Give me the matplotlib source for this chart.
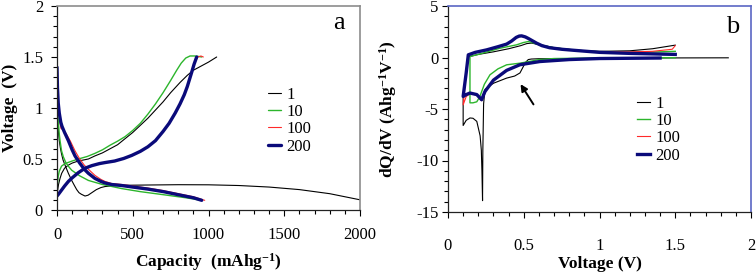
import matplotlib
matplotlib.use("Agg")
import matplotlib.pyplot as plt
from matplotlib.ticker import MultipleLocator

plt.rcParams['font.family'] = ['Liberation Serif', 'DejaVu Serif']
plt.rcParams['mathtext.fontset'] = 'custom'
plt.rcParams['mathtext.rm'] = 'Liberation Serif:bold'
plt.rcParams['mathtext.bf'] = 'Liberation Serif:bold'
plt.rcParams['mathtext.default'] = 'bf'

# ---------------- Panel a: voltage profiles ----------------
labels = ['1', '10', '100', '200']
colors = ['#000000', '#2cb52c', '#ff2a2a', '#0a0a7a']
widths = [0.8, 1.0, 0.8, 2.4]

c1_dis_cap = [0, 5, 10, 15, 22, 30, 40, 53, 75, 97, 115, 130, 145, 160, 185, 205, 230, 260, 290, 317, 370, 427,
              600, 800, 1000, 1200, 1400, 1600, 1800, 2000]
c1_dis_v = [0.95, 0.85, 0.76, 0.68, 0.61, 0.55, 0.49, 0.44, 0.36, 0.29, 0.24, 0.20, 0.17, 0.155, 0.137, 0.145, 0.17, 0.20, 0.22, 0.23, 0.237, 0.242,
            0.245, 0.248, 0.247, 0.24, 0.225, 0.20, 0.16, 0.10]
c1_chg_cap = [0, 5, 10, 20, 31, 50, 75, 100, 140, 207, 250, 300, 350, 400, 450, 500, 550, 600, 650, 700, 750, 812, 860, 900, 950, 1000, 1054]
c1_chg_v = [0.14, 0.20, 0.25, 0.31, 0.36, 0.41, 0.44, 0.46, 0.48, 0.50, 0.53, 0.56, 0.60, 0.64, 0.70, 0.76, 0.83, 0.90, 0.98, 1.06, 1.15, 1.25, 1.32, 1.37, 1.41, 1.45, 1.50]

c10_dis_cap = [0, 3, 8, 14, 20, 30, 42, 60, 80, 97, 150, 207, 300, 427, 550, 702, 850, 955]
c10_dis_v = [1.10, 1.00, 0.88, 0.76, 0.68, 0.58, 0.52, 0.46, 0.42, 0.39, 0.335, 0.29, 0.25, 0.21, 0.18, 0.15, 0.12, 0.095]
c10_chg_cap = [0, 3, 8, 15, 30, 53, 100, 141, 200, 250, 300, 350, 400, 450, 500, 550, 600, 650, 700, 750, 790, 820, 850, 878, 910, 935, 955]
c10_chg_v = [0.20, 0.26, 0.33, 0.38, 0.43, 0.455, 0.48, 0.50, 0.525, 0.555, 0.59, 0.635, 0.675, 0.72, 0.78, 0.85, 0.94, 1.04, 1.15, 1.27, 1.37, 1.44, 1.49, 1.51, 1.51, 1.505, 1.50]

c100_dis_cap = [0, 3, 8, 15, 22, 26, 40, 60, 90, 119, 150, 180, 207, 250, 290, 317, 360, 427, 500, 600, 702, 800, 900, 975]
c100_dis_v = [1.40, 1.20, 1.05, 0.93, 0.84, 0.80, 0.785, 0.75, 0.67, 0.58, 0.50, 0.44, 0.40, 0.34, 0.30, 0.28, 0.26, 0.25, 0.235, 0.215, 0.19, 0.16, 0.13, 0.095]
c100_chg_cap = [0, 10, 25, 50, 75, 100, 140, 185, 230, 280, 317, 380, 440, 493, 550, 600, 650, 700, 740, 780, 812, 840, 860, 889, 910, 930, 950, 966]
c100_chg_v = [0.137, 0.155, 0.185, 0.235, 0.28, 0.315, 0.365, 0.41, 0.435, 0.455, 0.465, 0.48, 0.505, 0.535, 0.575, 0.62, 0.68, 0.77, 0.85, 0.95, 1.04, 1.13, 1.21, 1.36, 1.45, 1.50, 1.51, 1.50]

c200_dis_cap = [0, 3, 8, 15, 25, 33, 50, 75, 100, 119, 150, 180, 207, 250, 290, 317, 360, 427, 500, 600, 702, 800, 900, 955]
c200_dis_v = [1.40, 1.20, 1.05, 0.95, 0.86, 0.82, 0.76, 0.68, 0.59, 0.53, 0.46, 0.40, 0.36, 0.31, 0.28, 0.265, 0.25, 0.24, 0.225, 0.205, 0.18, 0.15, 0.12, 0.095]
c200_chg_cap = [0, 10, 25, 50, 75, 100, 140, 185, 230, 280, 317, 380, 440, 493, 550, 600, 650, 700, 740, 780, 812, 840, 860, 889, 905, 922]
c200_chg_v = [0.137, 0.155, 0.185, 0.235, 0.28, 0.315, 0.365, 0.41, 0.435, 0.455, 0.465, 0.48, 0.505, 0.535, 0.575, 0.62, 0.68, 0.77, 0.85, 0.95, 1.04, 1.13, 1.21, 1.35, 1.43, 1.50]

# ---------------- Panel b: dQ/dV ----------------
b1_v = [1.85, 1.2, 0.8, 0.6, 0.55, 0.53, 0.51, 0.5, 0.475, 0.44, 0.387, 0.30, 0.244, 0.235, 0.23, 0.228, 0.224, 0.22, 0.212, 0.19, 0.165, 0.145, 0.12, 0.10,
        0.10, 0.13, 0.2, 0.3, 0.4, 0.48, 0.52, 0.55, 0.62, 0.7, 0.85, 1.0, 1.2, 1.35, 1.5]
b1_q = [-0.03, -0.05, -0.1, -0.12, -0.15, -0.2, -0.5, -0.8, -1.5, -1.8, -2.0, -2.5, -3.1, -4.5, -9.0, -13.9, -11.0, -9.0, -7.6, -6.2, -5.9, -5.87, -6.1, -6.6,
        -3.8, 0.05, 0.3, 0.55, 0.85, 1.15, 1.35, 1.4, 1.2, 0.95, 0.7, 0.6, 0.65, 0.85, 1.2]

b10_v = [1.5, 1.0, 0.7, 0.6, 0.55, 0.475, 0.387, 0.33, 0.277, 0.24, 0.21, 0.19, 0.165, 0.145,
         0.145, 0.2, 0.343, 0.453, 0.497, 0.53, 0.6, 0.7, 0.85, 1.0, 1.2, 1.4, 1.5]
b10_q = [-0.02, -0.05, -0.1, -0.2, -0.35, -0.55, -0.71, -1.1, -1.68, -2.6, -3.8, -4.3, -4.4, -4.4,
         0.1, 0.3, 0.9, 1.23, 1.45, 1.55, 1.25, 0.95, 0.7, 0.55, 0.5, 0.55, 0.6]

b100_v = [1.4, 1.0, 0.8, 0.607, 0.475, 0.387, 0.30, 0.244, 0.222, 0.19, 0.145, 0.12, 0.10,
          0.10, 0.12, 0.134, 0.18, 0.255, 0.33, 0.387, 0.42, 0.45, 0.47, 0.486, 0.51, 0.53, 0.56, 0.585, 0.62, 0.67, 0.75, 0.83, 1.0, 1.2, 1.35, 1.48, 1.5]
b100_q = [-0.05, -0.1, -0.2, -0.4, -0.72, -1.3, -2.25, -3.3, -4.2, -3.65, -3.5, -3.8, -4.6,
          -4.6, -1.5, 0.26, 0.5, 0.74, 1.05, 1.3, 1.6, 1.9, 2.03, 2.05, 1.98, 1.85, 1.6, 1.4, 1.15, 0.95, 0.8, 0.7, 0.55, 0.55, 0.6, 0.8, 1.15]

b200_v = [1.4, 1.0, 0.8, 0.607, 0.475, 0.387, 0.30, 0.244, 0.222, 0.19, 0.145, 0.12, 0.10,
          0.10, 0.12, 0.134, 0.18, 0.255, 0.33, 0.387, 0.42, 0.45, 0.47, 0.486, 0.51, 0.53, 0.56, 0.585, 0.62, 0.67, 0.75, 0.83, 1.0, 1.2, 1.5]
b200_q = [-0.05, -0.1, -0.2, -0.39, -0.7, -1.25, -2.2, -3.3, -4.1, -3.6, -3.45, -3.6, -3.78,
          -3.78, -1.5, 0.26, 0.5, 0.74, 1.05, 1.3, 1.6, 1.95, 2.08, 2.1, 2.0, 1.85, 1.6, 1.39, 1.15, 0.95, 0.8, 0.7, 0.5, 0.4, 0.3]

# arrow in panel b (data coords)
arrow_tail = (0.574, -4.78)
arrow_head = (0.469, -2.36)

fig = plt.figure(figsize=(7.56, 2.73), dpi=100)
axa = fig.add_axes([57/756, 63/273, 303/756, 204/273])
axb = fig.add_axes([448/756, 61/273, 303/756, 206/273])

tick_fs = 12

# Panel a
a_series = [
    (c1_dis_cap, c1_dis_v, c1_chg_cap, c1_chg_v),
    (c10_dis_cap, c10_dis_v, c10_chg_cap, c10_chg_v),
    (c100_dis_cap, c100_dis_v, c100_chg_cap, c100_chg_v),
    (c200_dis_cap, c200_dis_v, c200_chg_cap, c200_chg_v),
]
for (dc, dv, cc, cv), lab, col, lw in zip(a_series, labels, colors, widths):
    axa.plot(dc, dv, color=col, lw=lw, label=lab, solid_joinstyle='round', solid_capstyle='round')
    axa.plot(cc, cv, color=col, lw=lw, solid_joinstyle='round', solid_capstyle='round')

axa.set_xlim(0, 2000)
axa.set_ylim(0, 2)
axa.xaxis.set_major_locator(MultipleLocator(500))
axa.xaxis.set_minor_locator(MultipleLocator(100))
axa.yaxis.set_minor_locator(MultipleLocator(0.1))
axa.set_yticks([0, 0.5, 1, 1.5, 2])
axa.set_yticklabels(['0', '0.5', '1', '1.5', '2'])
axa.tick_params(axis='x', which='major', direction='out', length=4, width=0.8, labelsize=tick_fs, pad=8)
axa.tick_params(axis='y', which='major', direction='out', length=4, width=0.8, labelsize=tick_fs, pad=6)
axa.tick_params(which='minor', direction='out', length=3, width=0.8)
for s in ['top', 'right']:
    axa.spines[s].set_color('#8c8c8c')
    axa.spines[s].set_linewidth(1.2)
for s in ['left', 'bottom']:
    axa.spines[s].set_color('#222222')
    axa.spines[s].set_linewidth(0.9)
axa.set_xlabel(r'Capacity  (mAhg$^{-1}$)', fontsize=12.5, fontweight='bold', labelpad=6)
axa.set_ylabel('Voltage  (V)', fontsize=12.5, fontweight='bold', labelpad=3)
axa.text(0.93, 0.915, 'a', transform=axa.transAxes, fontsize=19, ha='center', va='center')
axa.legend(loc='upper left', bbox_to_anchor=(0.696, 0.605), frameon=False, fontsize=12,
           handlelength=0.8, handletextpad=0.3, labelspacing=0.08, borderpad=0, borderaxespad=0)

# Panel b
b_series = [(b1_v, b1_q), (b10_v, b10_q), (b100_v, b100_q), (b200_v, b200_q)]
for (v, q), lab, col, lw in zip(b_series, labels, colors, widths):
    axb.plot(v, q, color=col, lw=lw, label=lab, solid_joinstyle='round')

axb.set_xlim(0, 2)
axb.set_ylim(-15, 5)
axb.set_xticks([0, 0.5, 1, 1.5, 2])
axb.set_xticklabels(['0', '0.5', '1', '1.5', '2'])
axb.xaxis.set_minor_locator(MultipleLocator(0.1))
axb.set_yticks([-15, -10, -5, 0, 5])
axb.set_yticklabels(['-15', '-10', '-5', '0', '5'])
axb.yaxis.set_minor_locator(MultipleLocator(1))
axb.tick_params(axis='x', which='major', direction='out', length=4, width=0.8, labelsize=tick_fs, pad=15)
axb.tick_params(axis='y', which='major', direction='out', length=4, width=0.8, labelsize=tick_fs, pad=3)
axb.tick_params(which='minor', direction='out', length=3, width=0.8)
for s in ['top', 'right']:
    axb.spines[s].set_color('#5a66c4')
    axb.spines[s].set_linewidth(1.2)
for s in ['left', 'bottom']:
    axb.spines[s].set_color('#222222')
    axb.spines[s].set_linewidth(0.9)
axb.set_xlabel('Voltage (V)', fontsize=12.5, fontweight='bold', labelpad=1)
axb.set_ylabel(r'dQ/dV (Ahg$^{-1}$V$^{-1}$)', fontsize=12.5, fontweight='bold', labelpad=12)
axb.text(0.94, 0.9, 'b', transform=axb.transAxes, fontsize=19, ha='center', va='center')
axb.annotate('', xy=arrow_head, xytext=arrow_tail,
             arrowprops=dict(arrowstyle='-|>', color='black', lw=1.4, mutation_scale=10))
axb.legend(loc='upper left', bbox_to_anchor=(0.624, 0.565), frameon=False, fontsize=12,
           handlelength=0.8, handletextpad=0.3, labelspacing=0.08, borderpad=0, borderaxespad=0)

fig.savefig('out.png', dpi=100)
